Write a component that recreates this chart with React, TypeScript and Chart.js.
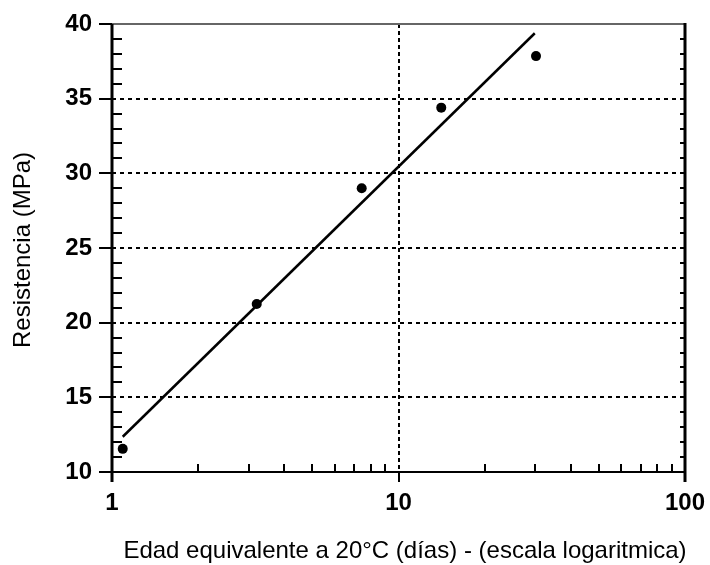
import { useEffect, useRef } from "react";
import { Chart, registerables } from "chart.js";

Chart.register(...registerables);

// Measured strength vs. equivalent age at 20°C
const ageDays = [1.09, 3.2, 7.44, 14.1, 30.2];
const strengthMPa = [11.55, 21.25, 29.0, 34.4, 37.85];

// Fitted strength–log(age) line (end points)
const fitAge = [1.09, 29.9];
const fitStrength = [12.36, 39.38];

// Axis ticks and grid
const xTickValues = [1, 10, 100];
const yTickValues = [10, 15, 20, 25, 30, 35, 40];
const xGridValues = [10];
const yGridValues = [15, 20, 25, 30, 35];
const xMinorValues = [2, 3, 4, 5, 6, 7, 8, 9, 20, 30, 40, 50, 60, 70, 80, 90];

const yTitle = "Resistencia (MPa)";
const xTitle = "Edad equivalente a 20°C (días) - (escala logaritmica)";

const FONT = "'Liberation Sans', Arial, sans-serif";

function seg(ctx: CanvasRenderingContext2D, x1: number, y1: number, x2: number, y2: number) {
  ctx.beginPath();
  ctx.moveTo(x1, y1);
  ctx.lineTo(x2, y2);
  ctx.stroke();
}

const axisDecor = {
  id: "axisDecor",
  beforeDatasetsDraw(chart: any) {
    const { ctx, chartArea: a, scales } = chart;
    const x = scales.x;
    const y = scales.y;
    ctx.save();
    ctx.strokeStyle = "#000";
    ctx.lineWidth = 2;
    ctx.setLineDash([4, 4]);
    for (const v of yGridValues) {
      const py = Math.round(y.getPixelForValue(v));
      seg(ctx, a.left, py, a.right, py);
    }
    ctx.setLineDash([4, 3]);
    for (const v of xGridValues) {
      const px = Math.round(x.getPixelForValue(v));
      seg(ctx, px, a.top, px, a.bottom + 10);
    }
    ctx.restore();
  },
  afterDatasetsDraw(chart: any) {
    const { ctx, chartArea: a, scales } = chart;
    const x = scales.x;
    const y = scales.y;
    ctx.save();
    ctx.setLineDash([]);
    // frame
    ctx.strokeStyle = "#666";
    ctx.lineWidth = 2;
    seg(ctx, a.left, a.top, a.right, a.top);
    ctx.strokeStyle = "#000";
    ctx.lineWidth = 2;
    seg(ctx, a.left, a.bottom, a.right + 1, a.bottom);
    ctx.lineWidth = 3;
    seg(ctx, a.left, a.top, a.left, a.bottom + 10);
    seg(ctx, a.right, a.top - 1, a.right, a.bottom + 10);

    // y ticks: major outward, minor inward
    ctx.lineWidth = 2;
    for (const v of yTickValues) {
      const py = Math.round(y.getPixelForValue(v));
      seg(ctx, a.left - 13, py, a.left, py);
    }
    for (let v = 11; v < 40; v++) {
      if (v % 5 === 0) continue;
      const py = Math.round(y.getPixelForValue(v));
      seg(ctx, a.left, py, a.left + 10, py);
      seg(ctx, a.right - 5, py, a.right, py);
    }
    // x ticks: major outward, minor inward
    for (const v of xTickValues) {
      const px = Math.round(x.getPixelForValue(v));
      seg(ctx, px, a.bottom, px, a.bottom + 10);
    }
    for (const v of xMinorValues) {
      const px = Math.round(x.getPixelForValue(v));
      seg(ctx, px, a.bottom, px, a.bottom - 8);
    }
    ctx.restore();
  },
  afterDraw(chart: any) {
    const { ctx } = chart;
    ctx.save();
    ctx.fillStyle = "#000";
    ctx.font = `24px ${FONT}`;
    ctx.textAlign = "center";
    ctx.textBaseline = "middle";
    ctx.fillText(xTitle, 405, 551);
    ctx.translate(23, 250);
    ctx.rotate(-Math.PI / 2);
    ctx.fillText(yTitle, 0, 0);
    ctx.restore();
  },
};

export default function App() {
  const ref = useRef<HTMLCanvasElement>(null);

  useEffect(() => {
    const canvas = ref.current;
    if (!canvas) return;
    const chart = new Chart(canvas, {
      type: "scatter",
      data: {
        datasets: [
          {
            label: "Ajuste",
            data: fitAge.map((a, i) => ({ x: a, y: fitStrength[i] })),
            showLine: true,
            borderColor: "#000",
            borderWidth: 2.5,
            pointRadius: 0,
            fill: false,
          },
          {
            label: "Ensayos",
            data: ageDays.map((a, i) => ({ x: a, y: strengthMPa[i] })),
            backgroundColor: "#000",
            borderColor: "#000",
            pointRadius: 5,
            borderWidth: 0,
          },
        ],
      },
      options: {
        animation: false,
        responsive: true,
        maintainAspectRatio: false,
        layout: { padding: { top: 24, right: 25, left: 0, bottom: 0 } },
        plugins: {
          legend: { display: false },
          tooltip: { enabled: false },
        },
        scales: {
          x: {
            type: "logarithmic",
            min: 1,
            max: 100,
            afterBuildTicks: (s: any) => {
              s.ticks = xTickValues.map((v) => ({ value: v }));
            },
            afterFit: (s: any) => {
              s.height = 93;
              s.paddingLeft = 0;
              s.paddingRight = 0;
            },
            grid: { display: false, drawTicks: false },
            border: { display: false },
            ticks: {
              autoSkip: false,
              maxRotation: 0,
              padding: 17,
              color: "#000",
              font: { family: FONT, size: 24, weight: "bold" },
              callback: (v: any) => String(v),
            },
          },
          y: {
            type: "linear",
            min: 10,
            max: 40,
            afterBuildTicks: (s: any) => {
              s.ticks = yTickValues.map((v) => ({ value: v }));
            },
            afterFit: (s: any) => {
              s.width = 112;
              s.paddingTop = 0;
              s.paddingBottom = 0;
            },
            grid: { display: false, drawTicks: false },
            border: { display: false },
            ticks: {
              padding: 20,
              color: "#000",
              font: { family: FONT, size: 24, weight: "bold" },
              callback: (v: any) => String(v),
            },
          },
        },
      },
      plugins: [axisDecor],
    });
    return () => chart.destroy();
  }, []);

  return (
    <div
      style={{
        position: "fixed",
        left: 0,
        top: 0,
        width: 710,
        height: 565,
        background: "#fff",
      }}
    >
      <canvas ref={ref} />
    </div>
  );
}
